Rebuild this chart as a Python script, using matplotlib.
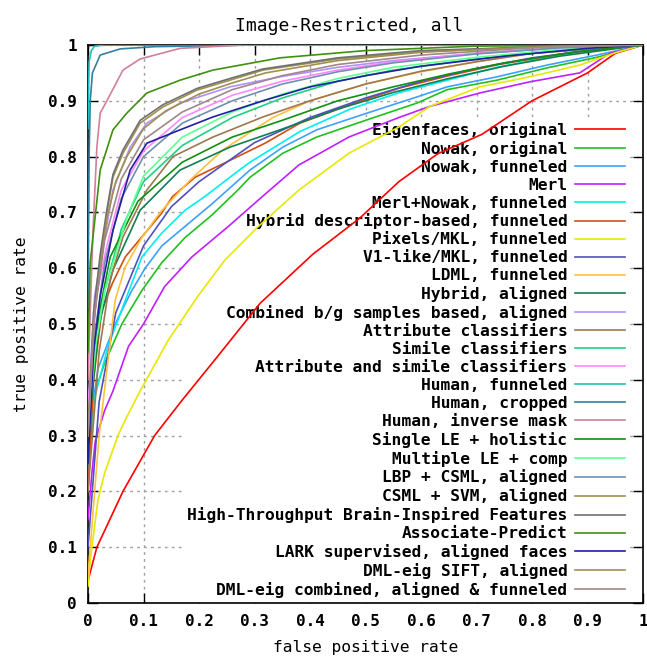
import numpy as np
import matplotlib
matplotlib.use("Agg")
import matplotlib.pyplot as plt

# ROC curves, (false positive rate, true positive rate)
eigenfaces_original = [(0, 0.04), (0.016, 0.10), (0.063, 0.20), (0.12, 0.30), (0.17, 0.364), (0.232, 0.44),
                       (0.31, 0.537), (0.405, 0.625), (0.49, 0.69), (0.56, 0.755), (0.63, 0.805), (0.71, 0.84),
                       (0.80, 0.90), (0.90, 0.95), (0.95, 0.985), (1, 1)]
nowak_original = [(0, 0.2), (0.007, 0.32), (0.013, 0.38), (0.03, 0.43), (0.061, 0.50), (0.097, 0.56), (0.133, 0.61),
                  (0.175, 0.655), (0.223, 0.695), (0.27, 0.74), (0.292, 0.763), (0.351, 0.806), (0.412, 0.835),
                  (0.503, 0.866), (0.593, 0.896), (0.647, 0.92), (0.737, 0.937), (0.827, 0.959), (0.917, 0.978), (1, 1)]
nowak_funneled = [(0, 0.22), (0.008, 0.35), (0.018, 0.42), (0.049, 0.50), (0.079, 0.56), (0.103, 0.60), (0.133, 0.64),
                  (0.175, 0.675), (0.223, 0.715), (0.292, 0.776), (0.351, 0.817), (0.412, 0.848), (0.503, 0.878),
                  (0.593, 0.907), (0.647, 0.925), (0.737, 0.943), (0.827, 0.964), (0.917, 0.982), (1, 1)]
merl = [(0, 0.15), (0.007, 0.233), (0.013, 0.29), (0.03, 0.345), (0.045, 0.38), (0.073, 0.46), (0.1, 0.50),
        (0.138, 0.567), (0.187, 0.62), (0.253, 0.675), (0.316, 0.73), (0.38, 0.785), (0.47, 0.835), (0.56, 0.87),
        (0.616, 0.89), (0.706, 0.914), (0.796, 0.934), (0.886, 0.95), (0.94, 0.985), (1, 1)]
merl_nowak_funneled = [(0, 0.25), (0.01, 0.36), (0.036, 0.46), (0.072, 0.555), (0.097, 0.62), (0.133, 0.663),
                       (0.175, 0.704), (0.21, 0.728), (0.265, 0.77), (0.292, 0.79), (0.382, 0.845), (0.472, 0.885),
                       (0.562, 0.915), (0.64, 0.935), (0.737, 0.96), (0.856, 0.983), (0.94, 0.996), (1, 1)]
hybrid_descriptor_funneled = [(0, 0.2), (0.01, 0.40), (0.025, 0.525), (0.044, 0.573), (0.067, 0.62), (0.097, 0.656),
                              (0.133, 0.699), (0.152, 0.728), (0.193, 0.763), (0.247, 0.789), (0.319, 0.824),
                              (0.382, 0.86), (0.472, 0.893), (0.562, 0.923), (0.65, 0.945), (0.74, 0.965),
                              (0.86, 0.985), (1, 1)]
pixels_mkl_funneled = [(0, 0.03), (0.004, 0.077), (0.018, 0.185), (0.03, 0.233), (0.054, 0.30), (0.067, 0.328),
                       (0.094, 0.38), (0.144, 0.47), (0.198, 0.55), (0.247, 0.615), (0.306, 0.674), (0.38, 0.74),
                       (0.47, 0.806), (0.56, 0.853), (0.616, 0.89), (0.706, 0.925), (0.796, 0.943), (0.886, 0.964),
                       (0.953, 0.987), (1, 1)]
v1_like_mkl_funneled = [(0, 0.1), (0.02, 0.36), (0.05, 0.52), (0.1, 0.64), (0.15, 0.71), (0.2, 0.755), (0.3, 0.825),
                        (0.4, 0.87), (0.5, 0.905), (0.6, 0.935), (0.7, 0.958), (0.8, 0.977), (0.9, 0.99), (1, 1)]
ldml_funneled = [(0, 0.05), (0.02, 0.3), (0.049, 0.543), (0.067, 0.602), (0.097, 0.655), (0.13, 0.70), (0.184, 0.758),
                 (0.243, 0.812), (0.333, 0.87), (0.4, 0.9), (0.5, 0.93), (0.6, 0.952), (0.7, 0.97), (0.8, 0.985),
                 (1, 1)]
hybrid_aligned = [(0, 0.3), (0.02, 0.50), (0.045, 0.597), (0.094, 0.704), (0.166, 0.776), (0.256, 0.817),
                  (0.346, 0.848), (0.45, 0.885), (0.55, 0.915), (0.65, 0.94), (0.75, 0.962), (0.85, 0.98), (1, 1)]
combined_bg_aligned = [(0, 0.35), (0.012, 0.55), (0.027, 0.638), (0.045, 0.74), (0.076, 0.817), (0.106, 0.86),
                       (0.166, 0.896), (0.256, 0.925), (0.346, 0.943), (0.45, 0.96), (0.55, 0.972), (0.7, 0.985),
                       (0.85, 0.995), (1, 1)]
attribute_classifiers = [(0, 0.2), (0.02, 0.45), (0.04, 0.58), (0.063, 0.656), (0.106, 0.74), (0.153, 0.8),
                         (0.225, 0.835), (0.315, 0.871), (0.4, 0.9), (0.5, 0.93), (0.6, 0.953), (0.7, 0.97),
                         (0.8, 0.985), (1, 1)]
simile_classifiers = [(0, 0.3), (0.012, 0.45), (0.03, 0.56), (0.06, 0.67), (0.1, 0.755), (0.17, 0.82), (0.26, 0.87),
                      (0.35, 0.905), (0.45, 0.935), (0.55, 0.955), (0.7, 0.975), (0.85, 0.99), (1, 1)]
attribute_simile_classifiers = [(0, 0.35), (0.015, 0.55), (0.034, 0.64), (0.06, 0.74), (0.1, 0.81), (0.17, 0.87),
                                (0.26, 0.91), (0.35, 0.935), (0.45, 0.955), (0.55, 0.97), (0.7, 0.985),
                                (0.85, 0.995), (1, 1)]
human_funneled = [(0, 0.85), (0.002, 0.97), (0.006, 0.99), (0.012, 0.998), (0.03, 1.0), (1, 1)]
human_cropped = [(0, 0.53), (0.002, 0.8), (0.004, 0.9), (0.008, 0.95), (0.022, 0.982), (0.058, 0.993), (0.12, 0.997),
                 (0.3, 1.0), (1, 1)]
human_inverse_mask = [(0, 0.4), (0.009, 0.668), (0.016, 0.817), (0.022, 0.878), (0.034, 0.90), (0.063, 0.955),
                      (0.094, 0.975), (0.166, 0.994), (0.28, 1.0), (1, 1)]
single_le_holistic = [(0, 0.3), (0.02, 0.52), (0.04, 0.62), (0.09, 0.72), (0.17, 0.79), (0.26, 0.835),
                      (0.35, 0.865), (0.45, 0.9), (0.55, 0.925), (0.65, 0.948), (0.75, 0.968), (0.88, 0.988), (1, 1)]
multiple_le_comp = [(0, 0.32), (0.015, 0.47), (0.03, 0.56), (0.07, 0.69), (0.1, 0.765), (0.17, 0.835),
                    (0.26, 0.88), (0.35, 0.912), (0.45, 0.94), (0.55, 0.96), (0.7, 0.978), (0.85, 0.992), (1, 1)]
lbp_csml_aligned = [(0, 0.3), (0.012, 0.48), (0.03, 0.61), (0.06, 0.725), (0.1, 0.8), (0.17, 0.86), (0.26, 0.9),
                    (0.35, 0.93), (0.45, 0.952), (0.55, 0.968), (0.7, 0.984), (0.85, 0.995), (1, 1)]
csml_svm_aligned = [(0, 0.3), (0.01, 0.5), (0.022, 0.615), (0.034, 0.699), (0.045, 0.763), (0.063, 0.806),
                    (0.094, 0.86), (0.135, 0.889), (0.196, 0.919), (0.256, 0.937), (0.315, 0.955), (0.45, 0.975),
                    (0.6, 0.988), (0.85, 0.998), (1, 1)]
high_throughput = [(0, 0.3), (0.01, 0.52), (0.022, 0.625), (0.034, 0.705), (0.045, 0.768), (0.063, 0.812),
                   (0.094, 0.865), (0.135, 0.893), (0.196, 0.922), (0.256, 0.94), (0.315, 0.957), (0.45, 0.977),
                   (0.6, 0.99), (0.85, 0.998), (1, 1)]
associate_predict = [(0, 0.45), (0.004, 0.61), (0.022, 0.776), (0.045, 0.848), (0.07, 0.878), (0.106, 0.914),
                     (0.166, 0.937), (0.225, 0.955), (0.346, 0.977), (0.5, 0.99), (0.7, 0.998), (1, 1)]
lark_supervised = [(0, 0.25), (0.01, 0.45), (0.022, 0.55), (0.045, 0.668), (0.076, 0.776), (0.106, 0.824),
                   (0.166, 0.848), (0.225, 0.871), (0.315, 0.90), (0.4, 0.925), (0.5, 0.945), (0.6, 0.962),
                   (0.75, 0.98), (0.9, 0.994), (1, 1)]
dml_eig_sift = [(0, 0.3), (0.01, 0.5), (0.022, 0.6), (0.034, 0.69), (0.05, 0.755), (0.07, 0.8), (0.1, 0.85),
                (0.14, 0.882), (0.2, 0.912), (0.26, 0.932), (0.32, 0.95), (0.45, 0.972), (0.6, 0.987),
                (0.85, 0.998), (1, 1)]
dml_eig_combined = [(0, 0.3), (0.012, 0.52), (0.03, 0.65), (0.06, 0.76), (0.1, 0.83), (0.17, 0.88), (0.26, 0.92),
                    (0.35, 0.945), (0.45, 0.965), (0.6, 0.982), (0.8, 0.995), (1, 1)]

curves = [eigenfaces_original, nowak_original, nowak_funneled, merl, merl_nowak_funneled,
          hybrid_descriptor_funneled, pixels_mkl_funneled, v1_like_mkl_funneled, ldml_funneled, hybrid_aligned,
          combined_bg_aligned, attribute_classifiers, simile_classifiers, attribute_simile_classifiers,
          human_funneled, human_cropped, human_inverse_mask, single_le_holistic, multiple_le_comp,
          lbp_csml_aligned, csml_svm_aligned, high_throughput, associate_predict, lark_supervised,
          dml_eig_sift, dml_eig_combined]

labels = ["Eigenfaces, original", "Nowak, original", "Nowak, funneled", "Merl", "Merl+Nowak, funneled",
          "Hybrid descriptor-based, funneled", "Pixels/MKL, funneled", "V1-like/MKL, funneled",
          "LDML, funneled", "Hybrid, aligned", "Combined b/g samples based, aligned", "Attribute classifiers",
          "Simile classifiers", "Attribute and simile classifiers", "Human, funneled", "Human, cropped",
          "Human, inverse mask", "Single LE + holistic", "Multiple LE + comp", "LBP + CSML, aligned",
          "CSML + SVM, aligned", "High-Throughput Brain-Inspired Features", "Associate-Predict",
          "LARK supervised, aligned faces", "DML-eig SIFT, aligned", "DML-eig combined, aligned & funneled"]

colors = ["#ff0000", "#20c020", "#40a0ff", "#c020ff", "#00eeee", "#d05010", "#e8e800", "#5050c0",
          "#ffc040", "#108050", "#b090ff", "#a07850", "#20d080", "#ff88ff", "#20c0c0", "#3080a0",
          "#d08098", "#109010", "#60ff90", "#7090b0", "#a09050", "#707070", "#409010", "#2020a0",
          "#a09050", "#a08888"]

plt.rcParams["font.family"] = ["DejaVu Sans Mono"]
plt.rcParams["font.weight"] = "bold"

fig = plt.figure(figsize=(6.47, 6.58), dpi=100)
ax = fig.add_axes([88 / 647, 55 / 658, 555 / 647, 558 / 658])

for pts, lab, col in zip(curves, labels, colors):
    arr = np.array(pts)
    ax.plot(arr[:, 0], arr[:, 1], color=col, lw=1.2, label=lab, zorder=3)

ax.set_xlim(0, 1)
ax.set_ylim(0, 1)
ticks = np.round(np.arange(0, 1.01, 0.1), 1)
ax.set_xticks(ticks)
ax.set_yticks(ticks)
ax.set_xticklabels(["0" if v == 0 else ("1" if v == 1 else f"{v:.1f}") for v in ticks])
ax.set_yticklabels(["0" if v == 0 else ("1" if v == 1 else f"{v:.1f}") for v in ticks])
ax.tick_params(direction="in", length=7, width=1, top=True, right=True, labelsize=11.5, pad=8)
ax.grid(True, color="#a0a0a0", linestyle=(0, (2, 3)), linewidth=1)
ax.set_axisbelow(True)
for sp in ax.spines.values():
    sp.set_linewidth(1.2)

ax.set_title("Image-Restricted, all", fontsize=13, pad=10, x=0.47)
ax.set_xlabel("false positive rate", fontsize=11.7, labelpad=8)
ax.set_ylabel("true positive rate", fontsize=11.7, labelpad=14)

leg = ax.legend(loc="upper right", bbox_to_anchor=(0.9766, 0.871), borderaxespad=0, borderpad=0.3,
                frameon=True, fancybox=False, edgecolor="none", facecolor="white", framealpha=1,
                markerfirst=False, fontsize=11.7, handlelength=3.1, handletextpad=0.45, labelspacing=0.18)
leg.set_zorder(2)

fig.savefig("out.png", dpi=100)
